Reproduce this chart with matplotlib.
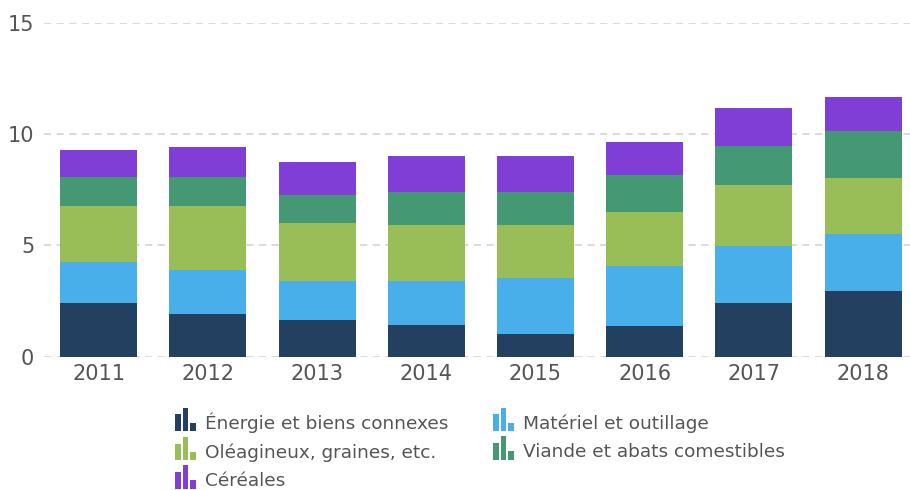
import numpy as np
import matplotlib
matplotlib.use("Agg")
import matplotlib.pyplot as plt
from matplotlib.patches import Patch, Rectangle
from matplotlib.legend_handler import HandlerBase

years = ["2011", "2012", "2013", "2014", "2015", "2016", "2017", "2018"]

energie = [2.40, 1.91, 1.64, 1.41, 1.03, 1.37, 2.40, 2.93]
materiel = [1.87, 2.00, 1.74, 2.01, 2.50, 2.69, 2.56, 2.56]
oleagineux = [2.50, 2.86, 2.63, 2.49, 2.38, 2.44, 2.75, 2.54]
viande = [1.30, 1.30, 1.25, 1.49, 1.49, 1.66, 1.74, 2.10]
cereales = [1.20, 1.33, 1.48, 1.60, 1.60, 1.47, 1.74, 1.55]

series_names = [
    "Énergie et biens connexes",
    "Matériel et outillage",
    "Oléagineux, graines, etc.",
    "Viande et abats comestibles",
    "Céréales",
]
colors = ["#234060", "#49afeb", "#99be57", "#449874", "#803ed6"]
text_color = "#555555"


class BarIconHandler(HandlerBase):
    # small "bar chart" icon like the original legend, y=0 is the text baseline
    def create_artists(self, legend, orig_handle, xdescent, ydescent,
                       width, height, fontsize, trans):
        c = orig_handle.get_facecolor()
        bw = width * 0.27
        gap = width * 0.095
        heights = [12.0, 16.8, 6.0]  # points
        arts = []
        for i, h in enumerate(heights):
            x0 = -xdescent + i * (bw + gap)
            r = Rectangle((x0, -1.9), bw, h,
                          facecolor=c, edgecolor="none", transform=trans)
            arts.append(r)
        return arts


fig = plt.figure(figsize=(9.1, 4.9), dpi=100)
ax = fig.add_axes([44 / 910, (490 - 356.7) / 490, 1 - 44 / 910, 334 / 490])

x = np.arange(len(years))
bottom = np.zeros(len(years))
handles = []
for name, vals, col in zip(series_names, [energie, materiel, oleagineux, viande, cereales], colors):
    ax.bar(x, vals, width=0.705, bottom=bottom, color=col, label=name, zorder=2)
    bottom += np.array(vals)
    handles.append(Patch(facecolor=col, label=name))

ax.set_xlim(-0.5, 7.43)
ax.set_ylim(0, 15)
ax.set_yticks([0, 5, 10, 15])
ax.set_xticks(x)
ax.set_xticklabels(years)
ax.yaxis.grid(True, color="#d8d8d8", linestyle=(0, (4, 3)), linewidth=1.3)
ax.set_axisbelow(True)
for s in ax.spines.values():
    s.set_visible(False)
ax.tick_params(axis="both", length=0, labelsize=15, colors=text_color)
ax.tick_params(axis="y", pad=7)
ax.tick_params(axis="x", pad=5)

# legend: fill column-wise so rows read E, M / O, V / C
order = [0, 2, 4, 1, 3]
leg = fig.legend([handles[i] for i in order], [series_names[i] for i in order],
                 handler_map={Patch: BarIconHandler()},
                 loc="upper left", bbox_to_anchor=(175 / 910, 1 - 412 / 490),
                 ncol=2, frameon=False, fontsize=13.3,
                 handlelength=1.135, handleheight=0.7, handletextpad=0.5,
                 columnspacing=2.4, labelspacing=0.57, borderpad=0, borderaxespad=0)
for t in leg.get_texts():
    t.set_color(text_color)

fig.savefig("out.png", dpi=100)
